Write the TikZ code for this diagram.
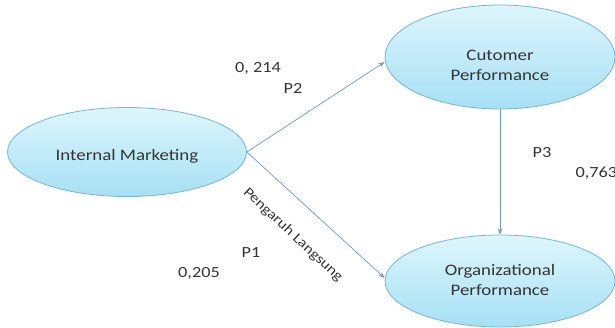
\documentclass[tikz,border=0pt]{standalone}
\usepackage{fontspec}
\setmainfont{Carlito}[FakeStretch=1.18]
\usepackage{tikz}
\usetikzlibrary{arrows.meta,shapes.geometric}

\definecolor{rimblue}{RGB}{118,182,210}
\definecolor{toplight}{RGB}{222,246,253}
\definecolor{botcyan}{RGB}{166,224,245}
\definecolor{linkblue}{RGB}{112,150,196}
\definecolor{inkgray}{RGB}{52,52,52}

\begin{document}
\begin{tikzpicture}[
  x=1pt, y=-1pt,
  font=\fontsize{16}{20}\selectfont,
  text=inkgray,
  oval/.style={ellipse, draw=rimblue, line width=0.8pt, top color=toplight,
    bottom color=botcyan, inner sep=0pt},
  ovaltext/.style={align=center, inner sep=0pt},
  lbl/.style={font=\fontsize{15.5}{18}\selectfont},
  arrow/.style={-{Stealth[length=2.2mm,width=1.6mm]}, draw=linkblue, line width=0.7pt}
]
\clip (0,0) rectangle (615,328);
% the three constructs
\node[oval, minimum width=239pt, minimum height=89pt] (im) at (127,152) {};
\node[ovaltext] (imtext) at (127,156) {Internal Marketing};
\node[oval, minimum width=230pt, minimum height=104pt] (cp) at (500,57) {};
\node[ovaltext] (cptext) at (500,65) {Cutomer\\Performance};
\node[oval, minimum width=230pt, minimum height=92pt] (op) at (500,281) {};
\node[ovaltext] (optext) at (500,280) {Organizational\\Performance};

\draw[arrow] (im.east) -- (cp.west |- 0,62) coordinate (cpin);
\draw[arrow] (im.east) -- (op.west |- 0,278) coordinate (opin);
\draw[arrow] (cp.south) -- (op.north);

% path labels
\node[lbl] (v2) at (258,68) {0, 214};
\node[lbl] (p2) at (293,88) {P2};
\node[lbl, font=\fontsize{14}{16}\selectfont, rotate=-43] (direct) at (293,235) {Pengaruh Langsung};
\node[lbl] (p1) at (251,253) {P1};
\node[lbl] (v1) at (199,273) {0,205};
\node[lbl] (p3) at (542,153) {P3};
\node[lbl, anchor=west] (v3) at (572,173) {0,763};
\end{tikzpicture}
\end{document}
